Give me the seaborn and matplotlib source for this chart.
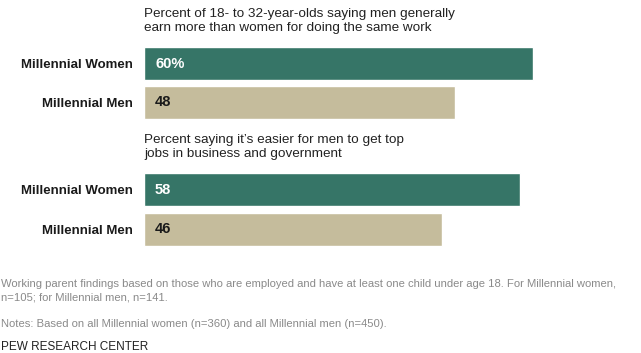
import matplotlib
matplotlib.use('Agg')
import matplotlib.pyplot as plt
import pandas as pd
import seaborn as sns

groups = ['Millennial Women', 'Millennial Men']
earn_more = [60, 48]
top_jobs = [58, 46]
titles = ['Percent of 18- to 32-year-olds saying men generally\nearn more than women for doing the same work',
          'Percent saying it\u2019s easier for men to get top\njobs in business and government']
colors = ['#367567', '#c5bc9c']

sns.set_style('white')
plt.rcParams['font.family'] = ['Liberation Sans', 'DejaVu Sans']

W, H = 641, 353
fig = plt.figure(figsize=(W / 100, H / 100), dpi=100)

px = 6.483  # pixels per percentage point
left = 144
xmax = 76

def make_ax(top, bottom):
    return fig.add_axes([left / W, 1 - bottom / H, xmax * px / W, (bottom - top) / H])

panels = [(earn_more, titles[0], 44, 122), (top_jobs, titles[1], 170, 249)]
for i, (vals, title, top, bottom) in enumerate(panels):
    ax = make_ax(top, bottom)
    df = pd.DataFrame({'group': groups, 'value': vals})
    sns.barplot(data=df, x='value', y='group', hue='group', palette=colors,
                width=0.84, legend=False, ax=ax, saturation=1)
    ax.set_xlim(0, xmax)
    ax.set_xlabel('')
    ax.set_ylabel('')
    ax.set_xticks([])
    sns.despine(ax=ax, left=True, bottom=True)
    ax.tick_params(axis='y', length=0, pad=8)
    for lab in ax.get_yticklabels():
        lab.set_fontweight('bold')
        lab.set_fontsize(9.5)
        lab.set_color('#1a1a1a')
    for j, v in enumerate(vals):
        txt = f'{v}%' if (i == 0 and j == 0) else f'{v}'
        ax.text(1.7, j, txt, va='center', ha='left', fontsize=10.5, fontweight='bold',
                color='white' if j == 0 else '#1a1a1a')
    # panel heading above each pair of bars
    ax.text(0, 1 + 36 / (bottom - top), title, transform=ax.transAxes, ha='left', va='top',
            fontsize=9.7, color='#222222', linespacing=1.25)

fig.text(1 / W, 1 - 279 / H,
         'Working parent findings based on those who are employed and have at least one child under age 18. For Millennial women,\nn=105; for Millennial men, n=141.',
         ha='left', va='top', fontsize=8.1, color='#8a8a8a', linespacing=1.4)
fig.text(1 / W, 1 - 319 / H,
         'Notes: Based on all Millennial women (n=360) and all Millennial men (n=450).',
         ha='left', va='top', fontsize=8.1, color='#8a8a8a')
fig.text(1 / W, 1 - 341 / H, 'PEW RESEARCH CENTER', ha='left', va='top',
         fontsize=8.5, color='#222222')

fig.savefig('out.png', dpi=100)
